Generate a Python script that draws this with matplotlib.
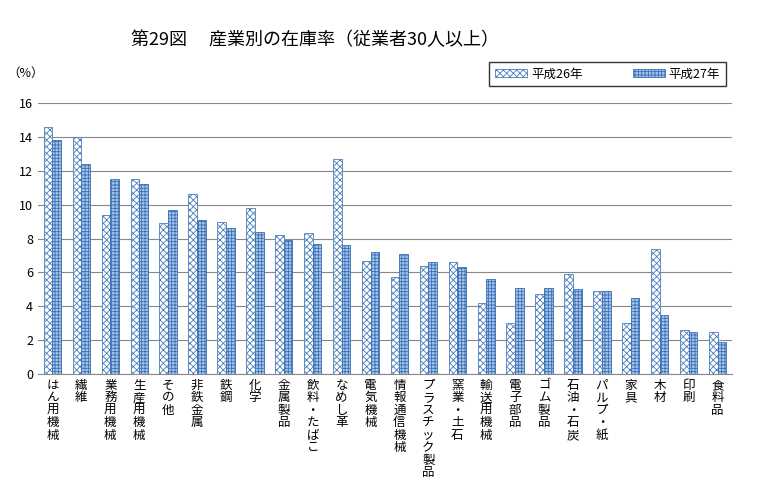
import matplotlib
matplotlib.use("Agg")
import matplotlib.pyplot as plt
import numpy as np

plt.rcParams['font.family'] = 'Noto Sans CJK JP'
plt.rcParams['hatch.linewidth'] = 0.6

categories = ["はん用機械","繊維","業務用機械","生産用機械","その他","非鉄金属","鉄鋼","化学","金属製品",
              "飲料・たばこ","なめし革","電気機械","情報通信機械","プラスチック製品","窯業・土石","輸送用機械",
              "電子部品","ゴム製品","石油・石炭","パルプ・紙","家具","木材","印刷","食料品"]
h26 = [14.6,14.0,9.4,11.5,8.9,10.6,9.0,9.8,8.2,8.3,12.7,6.7,5.7,6.4,6.6,4.2,3.0,4.7,5.9,4.9,3.0,7.4,2.6,2.5]
h27 = [13.8,12.4,11.5,11.2,9.7,9.1,8.6,8.4,7.9,7.7,7.6,7.2,7.1,6.6,6.3,5.6,5.1,5.1,5.0,4.9,4.5,3.5,2.5,1.9]
yticks = [0,2,4,6,8,10,12,14,16]

fig = plt.figure(figsize=(7.68,4.97), dpi=100)
ax = fig.add_axes([38/768, 1-374/497, (732-38)/768, (374-103)/497])
x = np.arange(len(categories))
w = 0.3
ax.bar(x-w/2, h26, w, facecolor='white', edgecolor='#4a7ebb', hatch='xxxxx', linewidth=0.6, label='平成26年', zorder=3)
ax.bar(x+w/2, h27, w, facecolor='#a8c4ea', edgecolor='#3a6fb5', hatch='+++++', linewidth=0.6, label='平成27年', zorder=3)
ax.set_xlim(-0.5, len(categories)-0.5)
ax.set_ylim(0,16)
ax.set_yticks(yticks)
ax.set_yticklabels([str(v) for v in yticks], fontsize=9)
ax.yaxis.grid(True, color='#888888', linewidth=0.8, zorder=0)
ax.set_xticks(x)
ax.set_xticklabels(["\n".join(c) for c in categories], fontsize=9, va='top', linespacing=0.95)
ax.tick_params(axis='both', length=0)
for s in ['top','right','left']:
    ax.spines[s].set_visible(False)
ax.spines['bottom'].set_color('#888888')
fig.text(0.17, 0.91, "第29図　 産業別の在庫率（従業者30人以上）", fontsize=13, ha='left')
fig.text(0.01, 0.845, "（%）", fontsize=9)
leg = ax.legend(loc='upper right', bbox_to_anchor=(1.0, 1.175), ncol=2, fontsize=9, frameon=True,
                fancybox=False, edgecolor='black', borderpad=0.45, columnspacing=4.0,
                handlelength=2.6, handletextpad=0.3)
fig.savefig("out.png", dpi=100)
